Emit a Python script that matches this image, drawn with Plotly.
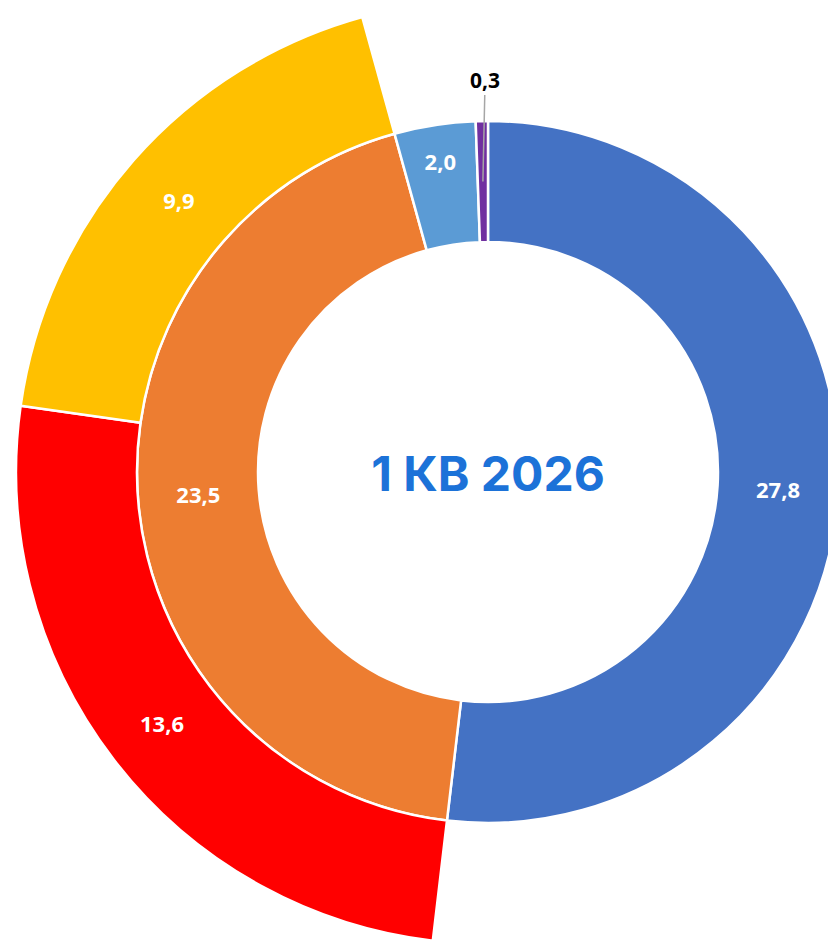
import math
import plotly.graph_objects as go

# ---- data ----
inner_labels = ["Сегмент 1", "Сегмент 2", "Сегмент 3", "Сегмент 4"]
inner_values = [27.8, 23.5, 2.0, 0.3]
inner_colors = ["#4472C4", "#ED7D31", "#5B9BD5", "#7030A0"]

outer_labels = ["Сегмент 2а", "Сегмент 2б"]   # breakdown of "Сегмент 2"
outer_values = [13.6, 9.9]
outer_colors = ["#FF0000", "#FFC000"]

center_title = "1 КВ 2026"

# ---- layout geometry (pixels) ----
W, H = 980, 950
CX, CY = 488, 472
R_HOLE, R_IN, R_OUT = 230, 351, 472


def dom(r):
    return dict(x=[(CX - r) / W, (CX + r) / W],
                y=[1 - (CY + r) / H, 1 - (CY - r) / H])


TRANSP = "rgba(0,0,0,0)"
LINE_W = 2.5
LABEL_FONT = dict(family="Open Sans", size=22, color="white", weight="bold")

inner = go.Pie(
    labels=inner_labels, values=inner_values, sort=False,
    direction="clockwise", rotation=0,
    hole=R_HOLE / R_IN, domain=dom(R_IN),
    marker=dict(colors=inner_colors, line=dict(color="white", width=LINE_W)),
    texttemplate="%{value:.1f}",
    textposition=["inside", "inside", "inside", "none"],
    insidetextorientation="horizontal",
    textfont=LABEL_FONT,
    showlegend=False, hoverinfo="label+value",
    title=dict(text=center_title, position="middle center",
               font=dict(family="Inter", size=48, color="#1C72D8", weight="bold")),
)

# outer ring: only the breakdown of the second inner slice is visible
o_labels = [inner_labels[0]] + outer_labels + inner_labels[2:]
o_values = [inner_values[0]] + outer_values + inner_values[2:]
o_colors = [TRANSP] + outer_colors + [TRANSP] * len(inner_values[2:])
o_lw = [0] + [LINE_W] * len(outer_values) + [0] * len(inner_values[2:])
o_pos = ["none"] + ["inside"] * len(outer_values) + ["none"] * len(inner_values[2:])

outer = go.Pie(
    labels=o_labels, values=o_values, sort=False,
    direction="clockwise", rotation=0,
    hole=R_IN / R_OUT, domain=dom(R_OUT),
    marker=dict(colors=o_colors, line=dict(color="white", width=o_lw)),
    texttemplate="%{value:.1f}",
    textposition=o_pos,
    insidetextorientation="horizontal",
    textfont=LABEL_FONT,
    showlegend=False, hoverinfo="label+value",
)

fig = go.Figure([inner, outer])

# leader-line label for the tiny last inner slice
total = sum(inner_values)
cum = sum(inner_values[:-1]) + inner_values[-1] / 2
theta = math.radians(360 * cum / total)
r_mid = (R_HOLE + R_IN) / 2
px = CX + r_mid * math.sin(theta)
py = CY - r_mid * math.cos(theta)
off = 102
fig.add_annotation(
    x=px / W, y=1 - py / H, xref="paper", yref="paper",
    text=f"{inner_values[-1]:.1f}".replace(".", ","),
    showarrow=True, arrowhead=0, arrowwidth=1.5, arrowcolor="#A6A6A6",
    ax=off * math.sin(theta) + 4, ay=-off * math.cos(theta), standoff=0,
    font=dict(family="Open Sans", size=21, color="black", weight="bold"),
)

fig.update_layout(
    width=W, height=H, margin=dict(l=0, r=0, t=0, b=0),
    paper_bgcolor="white", plot_bgcolor="white",
    separators=",.",
)

fig.write_html(
    "out.html",
    post_script="document.body.style.margin='0';"
                "document.body.style.overflow='hidden';"
                "document.documentElement.style.overflow='hidden';",
)
